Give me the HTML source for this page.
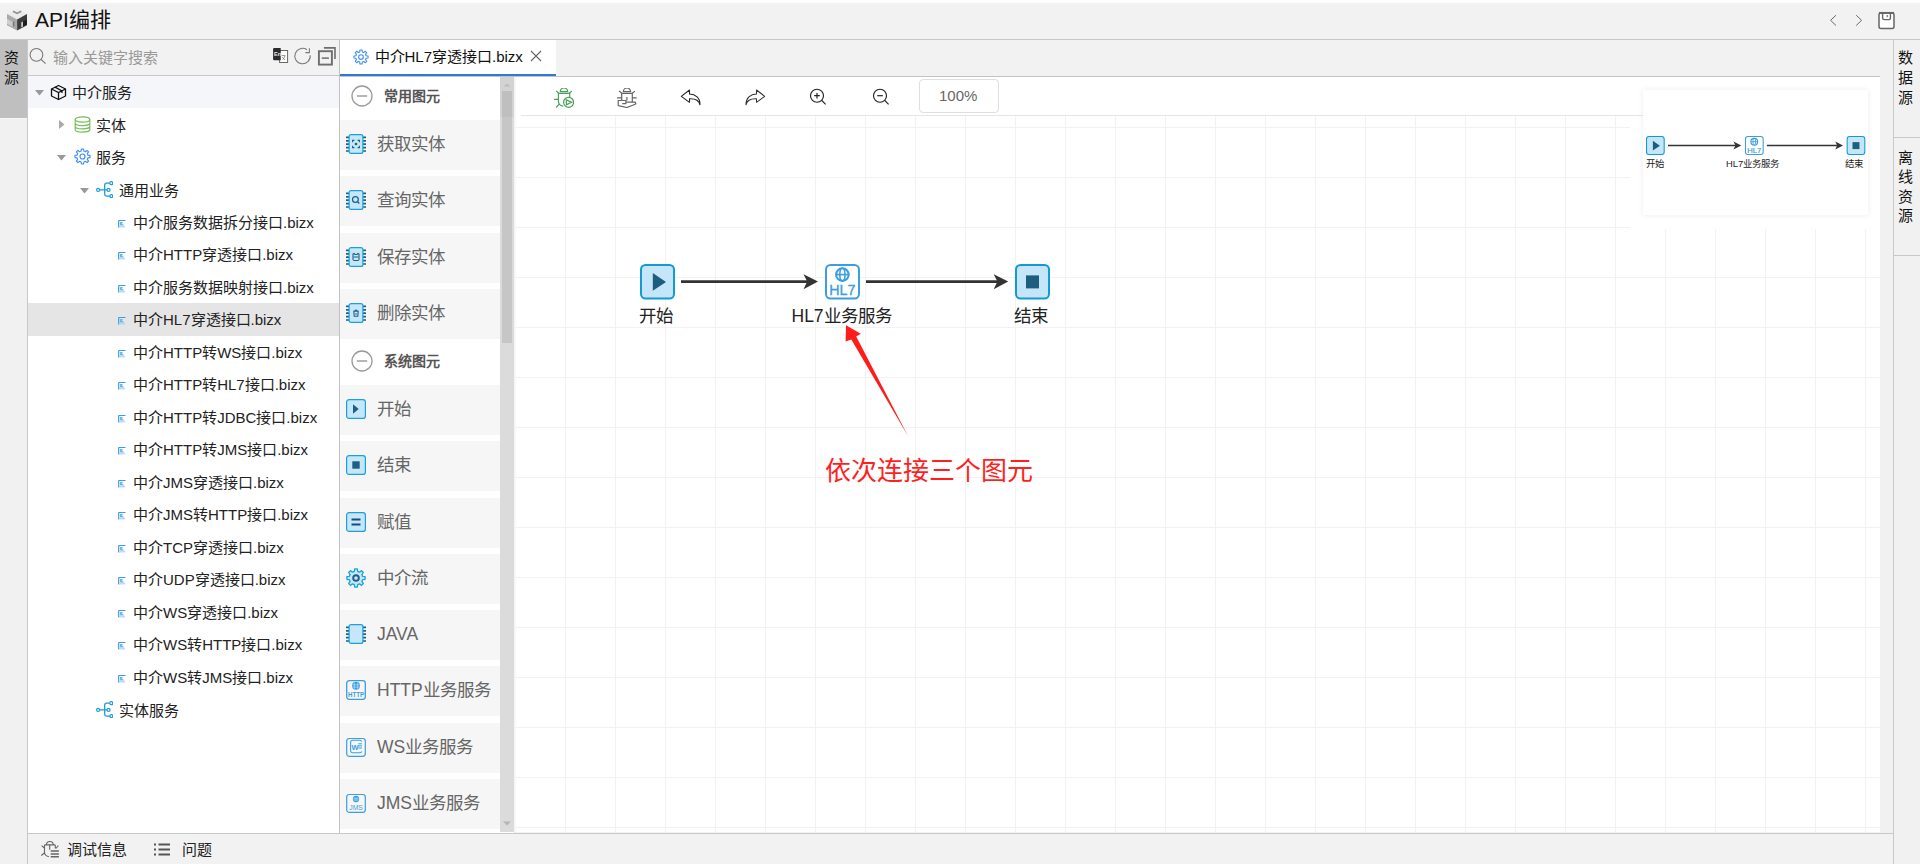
<!DOCTYPE html><html lang="zh-CN"><head><meta charset="utf-8"><style>
*{margin:0;padding:0;box-sizing:border-box}
html,body{width:1920px;height:864px;overflow:hidden;background:#fff;font-family:"Liberation Sans",sans-serif;color:#222}
div,span,svg{position:absolute}
.t{white-space:nowrap;line-height:1}
</style></head><body>
<div style="left:0px;top:0px;width:1920px;height:3px;background:#fff;"></div>
<div style="left:0px;top:3px;width:1920px;height:36px;background:#f2f2f2;"></div>
<div style="left:0px;top:39px;width:1920px;height:1px;background:#c8c8c8;"></div>
<div style="left:0px;top:40px;width:27px;height:824px;background:#f1f1f1;"></div>
<div style="left:0px;top:40px;width:27px;height:78px;background:#bfbfbf;"></div>
<div style="left:0px;top:118px;width:27px;height:1px;background:#f6f6f6;"></div>
<div style="left:27px;top:40px;width:1px;height:824px;background:#c8c8c8;"></div>
<div style="left:28px;top:40px;width:311px;height:35px;background:#f2f2f2;"></div>
<div style="left:28px;top:75px;width:311px;height:1px;background:#c8c8c8;"></div>
<div style="left:339px;top:40px;width:1px;height:793px;background:#c3c3c3;"></div>
<div style="left:340px;top:40px;width:1540px;height:36px;background:#f2f2f2;"></div>
<div style="left:340px;top:40px;width:216px;height:36px;background:#fff;"></div>
<div style="left:340px;top:74px;width:216px;height:2px;background:#2f7bd1;"></div>
<div style="left:340px;top:76px;width:1540px;height:1px;background:#c3c3c3;"></div>
<div style="left:1880px;top:40px;width:13px;height:793px;background:#f1f1f1;"></div>
<div style="left:1893px;top:40px;width:1px;height:824px;background:#c8c8c8;"></div>
<div style="left:1894px;top:40px;width:26px;height:824px;background:#f1f1f1;"></div>
<div style="left:28px;top:833px;width:1865px;height:1px;background:#c8c8c8;"></div>
<div style="left:28px;top:834px;width:1865px;height:30px;background:#f2f2f2;"></div>
<svg style="left:7px;top:8px" width="21" height="24" viewBox="0 0 21 24">
<path d="M10.1 0.8 L20 6.1 L10.1 11.4 L0 6.1Z" fill="#ebebeb"/>
<path d="M6 3.2 L10.1 5.4 L14.2 3.2" stroke="#8f8f8f" stroke-width="1.6" fill="none"/>
<path d="M0 6.1 L10.1 11.4 V22.6 L0 17.2Z" fill="#a9a9a9"/>
<path d="M10.1 11.4 L20 6.1 V17.2 L10.1 22.6Z" fill="#3d3d3d"/>
<path d="M0 10.8 L5.8 13.9 V18.9 L0 15.8Z" fill="#cdcdcd"/>
<path d="M5.8 13.9 L7.4 13 V18 L5.8 18.9Z" fill="#7a7a7a"/>
<path d="M14.2 14.6 L16 13.6 V18.6 L14.2 19.6Z" fill="#c9c9c9"/>
<path d="M16 13.6 L20 11.4 V16.4 L16 18.6Z" fill="#1e1e1e"/>
</svg>
<span class="t" style="left:35px;top:9px;font-size:21px;color:#111;">API编排</span>
<svg style="left:1826px;top:13px" width="14" height="14" viewBox="0 0 14 14"><path d="M10 2.2 L4.6 7.3 L10 12.5" stroke="#6a6a6a" stroke-width="1" fill="none"/></svg>
<svg style="left:1851px;top:13px" width="14" height="14" viewBox="0 0 14 14"><path d="M5.2 2.2 L10.6 7.3 L5.2 12.5" stroke="#6a6a6a" stroke-width="1" fill="none"/></svg>
<svg style="left:1877px;top:11px" width="19" height="19" viewBox="0 0 19 19"><rect x="2" y="1.9" width="15" height="15.6" rx="2" stroke="#666" stroke-width="1.5" fill="#fff"/><path d="M2 1.9 H17" stroke="#666" stroke-width="1.9"/><path d="M5.6 2 V7 A1.6 1.6 0 0 0 7.2 8.6 H11.8 A1.6 1.6 0 0 0 13.4 7 V2" stroke="#666" stroke-width="1.4" fill="none"/><path d="M10.2 4 V6.2" stroke="#555" stroke-width="1"/></svg>
<span class="t" style="left:4px;top:50px;font-size:15px;color:#111;">资</span>
<span class="t" style="left:4px;top:70px;font-size:15px;color:#111;">源</span>
<span class="t" style="left:1898px;top:50.0px;font-size:15px;color:#111;">数</span>
<span class="t" style="left:1898px;top:69.8px;font-size:15px;color:#111;">据</span>
<span class="t" style="left:1898px;top:89.6px;font-size:15px;color:#111;">源</span>
<div style="left:1894px;top:137px;width:26px;height:1px;background:#c8c8c8;"></div>
<span class="t" style="left:1898px;top:149.5px;font-size:15px;color:#111;">离</span>
<span class="t" style="left:1898px;top:169.1px;font-size:15px;color:#111;">线</span>
<span class="t" style="left:1898px;top:188.7px;font-size:15px;color:#111;">资</span>
<span class="t" style="left:1898px;top:208.3px;font-size:15px;color:#111;">源</span>
<div style="left:1894px;top:255px;width:26px;height:1px;background:#c8c8c8;"></div>
<svg style="left:28px;top:46px" width="20" height="20" viewBox="0 0 20 20"><circle cx="8.45" cy="8.85" r="6.4" stroke="#777" stroke-width="1.1" fill="none"/><path d="M13.1 13.5 L17.6 17.6" stroke="#777" stroke-width="1.1"/></svg>
<span class="t" style="left:53px;top:49.5px;font-size:15px;color:#999;">输入关键字搜索</span>
<svg style="left:272px;top:47px" width="17" height="17" viewBox="0 0 17 17"><rect x="7.6" y="3.5" width="8" height="12" fill="#fff" stroke="#666" stroke-width="1"/><path d="M1.1 2 A1 1 0 0 1 2.1 1 H8.7 V13.3 H2.1 A1 1 0 0 1 1.1 12.3Z" fill="#2b2b2b"/><text x="2" y="8.8" font-size="5.6" font-weight="bold" fill="#e8e8e8" font-family="Liberation Sans">En</text><path d="M9.5 8.6 H13.2 L11 12.5 M10.3 10.3 L13 13" stroke="#777" stroke-width="0.8" fill="none"/></svg>
<svg style="left:293px;top:46px" width="20" height="20" viewBox="0 0 20 20"><path d="M17.2 9.3 A7.7 7.7 0 1 1 13.9 3.7" stroke="#777" stroke-width="1.05" fill="none"/><path d="M12.4 6.6 H16.4 V2.3" stroke="#777" stroke-width="1.05" fill="none"/></svg>
<svg style="left:317px;top:46px" width="20" height="20" viewBox="0 0 20 20"><rect x="1.9" y="5.2" width="13" height="13.4" stroke="#6e6e6e" stroke-width="1.9" fill="none"/><path d="M6.9 1.9 H18 V13" stroke="#6e6e6e" stroke-width="1.6" fill="none"/><path d="M4.8 12.1 H11.9" stroke="#6e6e6e" stroke-width="1.5"/></svg>
<div style="left:28px;top:76px;width:311px;height:32px;background:#f4f6fa;"></div>
<div style="left:28px;top:303.5px;width:0px;height:0px;background:#fff;"></div>
<div style="left:28px;top:303px;width:311px;height:32.5px;background:#e5e5e5;"></div>
<svg style="left:35px;top:90px" width="9" height="6" viewBox="0 0 9 6"><path d="M0 0 H9 L4.5 5.5Z" fill="#999"/></svg>
<svg style="left:50px;top:84px" width="17" height="17" viewBox="0 0 17 17"><path d="M8.5 1.5 L15.5 5 V12 L8.5 15.5 L1.5 12 V5Z" stroke="#111" stroke-width="1.3" fill="none" stroke-linejoin="round"/><path d="M1.5 5 L8.5 8.5 L15.5 5 M8.5 8.5 V15.5 M5 3.2 L12 6.8 V9" stroke="#111" stroke-width="1.3" fill="none"/></svg>
<span class="t" style="left:72px;top:85px;font-size:15px;color:#222;">中介服务</span>
<svg style="left:59px;top:120px" width="6" height="9" viewBox="0 0 6 9"><path d="M0 0 V9 L5.5 4.5Z" fill="#aaa"/></svg>
<svg style="left:74px;top:116px" width="17" height="17" viewBox="0 0 17 17"><ellipse cx="8.5" cy="3.5" rx="7.3" ry="2.6" stroke="#78be5c" stroke-width="1.2" fill="none"/><path d="M1.2 3.5 V13.5 A7.3 2.6 0 0 0 15.8 13.5 V3.5 M1.2 7 A7.3 2.6 0 0 0 15.8 7 M1.2 10.3 A7.3 2.6 0 0 0 15.8 10.3" stroke="#78be5c" stroke-width="1.2" fill="none"/></svg>
<span class="t" style="left:96px;top:117.5px;font-size:15px;color:#222;">实体</span>
<svg style="left:57px;top:155px" width="9" height="6" viewBox="0 0 9 6"><path d="M0 0 H9 L4.5 5.5Z" fill="#999"/></svg>
<svg style="left:74px;top:148px" width="17" height="17" viewBox="0 0 17 17"><path d="M7.11 3.08 L7.43 0.98 L9.57 0.98 L9.89 3.08 L11.35 3.68 L13.06 2.42 L14.58 3.94 L13.32 5.65 L13.92 7.11 L16.02 7.43 L16.02 9.57 L13.92 9.89 L13.32 11.35 L14.58 13.06 L13.06 14.58 L11.35 13.32 L9.89 13.92 L9.57 16.02 L7.43 16.02 L7.11 13.92 L5.65 13.32 L3.94 14.58 L2.42 13.06 L3.68 11.35 L3.08 9.89 L0.98 9.57 L0.98 7.43 L3.08 7.11 L3.68 5.65 L2.42 3.94 L3.94 2.42 L5.65 3.68Z" fill="none" stroke="#3d8ef8" stroke-width="1.15" stroke-linejoin="round"/><circle cx="8.5" cy="8.5" r="2.5" fill="none" stroke="#3d8ef8" stroke-width="1.2"/></svg>
<span class="t" style="left:96px;top:150px;font-size:15px;color:#222;">服务</span>
<svg style="left:80px;top:187.5px" width="9" height="6" viewBox="0 0 9 6"><path d="M0 0 H9 L4.5 5.5Z" fill="#999"/></svg>
<svg style="left:96px;top:181px" width="17" height="17" viewBox="0 0 17 17"><circle cx="2.1" cy="8.9" r="1.5" stroke="#1d9bd6" stroke-width="1.2" fill="none"/><circle cx="15.3" cy="2.2" r="1.5" stroke="#1d9bd6" stroke-width="1.2" fill="none"/><circle cx="12.6" cy="8.9" r="1.5" stroke="#1d9bd6" stroke-width="1.2" fill="none"/><circle cx="15.3" cy="15.1" r="1.5" stroke="#1d9bd6" stroke-width="1.2" fill="none"/><path d="M3.6 8.9 H11.1 M13.8 2.2 H10.5 A1.8 1.8 0 0 0 8.7 4 V13.3 A1.8 1.8 0 0 0 10.5 15.1 H13.8" stroke="#1d9bd6" stroke-width="1.3" fill="none"/></svg>
<span class="t" style="left:118.5px;top:182.5px;font-size:15px;color:#222;">通用业务</span>
<svg style="left:118px;top:219.5px" width="8" height="8" viewBox="0 0 8 8"><path d="M0.5 0.5 H7.5 M0.7 0.5 V7.5" stroke="#3a9ee0" stroke-width="1.2"/><path d="M2 2 H5 L4 3.5 L6.5 5.5 H2Z" fill="#6fb8ea"/><path d="M1.5 6.8 H7" stroke="#a8d4f2" stroke-width="1.2"/></svg>
<span class="t" style="left:133px;top:214.5px;font-size:15px;color:#222;">中介服务数据拆分接口.bizx</span>
<svg style="left:118px;top:252.0px" width="8" height="8" viewBox="0 0 8 8"><path d="M0.5 0.5 H7.5 M0.7 0.5 V7.5" stroke="#3a9ee0" stroke-width="1.2"/><path d="M2 2 H5 L4 3.5 L6.5 5.5 H2Z" fill="#6fb8ea"/><path d="M1.5 6.8 H7" stroke="#a8d4f2" stroke-width="1.2"/></svg>
<span class="t" style="left:133px;top:247.0px;font-size:15px;color:#222;">中介HTTP穿透接口.bizx</span>
<svg style="left:118px;top:284.5px" width="8" height="8" viewBox="0 0 8 8"><path d="M0.5 0.5 H7.5 M0.7 0.5 V7.5" stroke="#3a9ee0" stroke-width="1.2"/><path d="M2 2 H5 L4 3.5 L6.5 5.5 H2Z" fill="#6fb8ea"/><path d="M1.5 6.8 H7" stroke="#a8d4f2" stroke-width="1.2"/></svg>
<span class="t" style="left:133px;top:279.5px;font-size:15px;color:#222;">中介服务数据映射接口.bizx</span>
<svg style="left:118px;top:317.0px" width="8" height="8" viewBox="0 0 8 8"><path d="M0.5 0.5 H7.5 M0.7 0.5 V7.5" stroke="#3a9ee0" stroke-width="1.2"/><path d="M2 2 H5 L4 3.5 L6.5 5.5 H2Z" fill="#6fb8ea"/><path d="M1.5 6.8 H7" stroke="#a8d4f2" stroke-width="1.2"/></svg>
<span class="t" style="left:133px;top:312.0px;font-size:15px;color:#222;">中介HL7穿透接口.bizx</span>
<svg style="left:118px;top:349.5px" width="8" height="8" viewBox="0 0 8 8"><path d="M0.5 0.5 H7.5 M0.7 0.5 V7.5" stroke="#3a9ee0" stroke-width="1.2"/><path d="M2 2 H5 L4 3.5 L6.5 5.5 H2Z" fill="#6fb8ea"/><path d="M1.5 6.8 H7" stroke="#a8d4f2" stroke-width="1.2"/></svg>
<span class="t" style="left:133px;top:344.5px;font-size:15px;color:#222;">中介HTTP转WS接口.bizx</span>
<svg style="left:118px;top:382.0px" width="8" height="8" viewBox="0 0 8 8"><path d="M0.5 0.5 H7.5 M0.7 0.5 V7.5" stroke="#3a9ee0" stroke-width="1.2"/><path d="M2 2 H5 L4 3.5 L6.5 5.5 H2Z" fill="#6fb8ea"/><path d="M1.5 6.8 H7" stroke="#a8d4f2" stroke-width="1.2"/></svg>
<span class="t" style="left:133px;top:377.0px;font-size:15px;color:#222;">中介HTTP转HL7接口.bizx</span>
<svg style="left:118px;top:414.5px" width="8" height="8" viewBox="0 0 8 8"><path d="M0.5 0.5 H7.5 M0.7 0.5 V7.5" stroke="#3a9ee0" stroke-width="1.2"/><path d="M2 2 H5 L4 3.5 L6.5 5.5 H2Z" fill="#6fb8ea"/><path d="M1.5 6.8 H7" stroke="#a8d4f2" stroke-width="1.2"/></svg>
<span class="t" style="left:133px;top:409.5px;font-size:15px;color:#222;">中介HTTP转JDBC接口.bizx</span>
<svg style="left:118px;top:447.0px" width="8" height="8" viewBox="0 0 8 8"><path d="M0.5 0.5 H7.5 M0.7 0.5 V7.5" stroke="#3a9ee0" stroke-width="1.2"/><path d="M2 2 H5 L4 3.5 L6.5 5.5 H2Z" fill="#6fb8ea"/><path d="M1.5 6.8 H7" stroke="#a8d4f2" stroke-width="1.2"/></svg>
<span class="t" style="left:133px;top:442.0px;font-size:15px;color:#222;">中介HTTP转JMS接口.bizx</span>
<svg style="left:118px;top:479.5px" width="8" height="8" viewBox="0 0 8 8"><path d="M0.5 0.5 H7.5 M0.7 0.5 V7.5" stroke="#3a9ee0" stroke-width="1.2"/><path d="M2 2 H5 L4 3.5 L6.5 5.5 H2Z" fill="#6fb8ea"/><path d="M1.5 6.8 H7" stroke="#a8d4f2" stroke-width="1.2"/></svg>
<span class="t" style="left:133px;top:474.5px;font-size:15px;color:#222;">中介JMS穿透接口.bizx</span>
<svg style="left:118px;top:512.0px" width="8" height="8" viewBox="0 0 8 8"><path d="M0.5 0.5 H7.5 M0.7 0.5 V7.5" stroke="#3a9ee0" stroke-width="1.2"/><path d="M2 2 H5 L4 3.5 L6.5 5.5 H2Z" fill="#6fb8ea"/><path d="M1.5 6.8 H7" stroke="#a8d4f2" stroke-width="1.2"/></svg>
<span class="t" style="left:133px;top:507.0px;font-size:15px;color:#222;">中介JMS转HTTP接口.bizx</span>
<svg style="left:118px;top:544.5px" width="8" height="8" viewBox="0 0 8 8"><path d="M0.5 0.5 H7.5 M0.7 0.5 V7.5" stroke="#3a9ee0" stroke-width="1.2"/><path d="M2 2 H5 L4 3.5 L6.5 5.5 H2Z" fill="#6fb8ea"/><path d="M1.5 6.8 H7" stroke="#a8d4f2" stroke-width="1.2"/></svg>
<span class="t" style="left:133px;top:539.5px;font-size:15px;color:#222;">中介TCP穿透接口.bizx</span>
<svg style="left:118px;top:577.0px" width="8" height="8" viewBox="0 0 8 8"><path d="M0.5 0.5 H7.5 M0.7 0.5 V7.5" stroke="#3a9ee0" stroke-width="1.2"/><path d="M2 2 H5 L4 3.5 L6.5 5.5 H2Z" fill="#6fb8ea"/><path d="M1.5 6.8 H7" stroke="#a8d4f2" stroke-width="1.2"/></svg>
<span class="t" style="left:133px;top:572.0px;font-size:15px;color:#222;">中介UDP穿透接口.bizx</span>
<svg style="left:118px;top:609.5px" width="8" height="8" viewBox="0 0 8 8"><path d="M0.5 0.5 H7.5 M0.7 0.5 V7.5" stroke="#3a9ee0" stroke-width="1.2"/><path d="M2 2 H5 L4 3.5 L6.5 5.5 H2Z" fill="#6fb8ea"/><path d="M1.5 6.8 H7" stroke="#a8d4f2" stroke-width="1.2"/></svg>
<span class="t" style="left:133px;top:604.5px;font-size:15px;color:#222;">中介WS穿透接口.bizx</span>
<svg style="left:118px;top:642.0px" width="8" height="8" viewBox="0 0 8 8"><path d="M0.5 0.5 H7.5 M0.7 0.5 V7.5" stroke="#3a9ee0" stroke-width="1.2"/><path d="M2 2 H5 L4 3.5 L6.5 5.5 H2Z" fill="#6fb8ea"/><path d="M1.5 6.8 H7" stroke="#a8d4f2" stroke-width="1.2"/></svg>
<span class="t" style="left:133px;top:637.0px;font-size:15px;color:#222;">中介WS转HTTP接口.bizx</span>
<svg style="left:118px;top:674.5px" width="8" height="8" viewBox="0 0 8 8"><path d="M0.5 0.5 H7.5 M0.7 0.5 V7.5" stroke="#3a9ee0" stroke-width="1.2"/><path d="M2 2 H5 L4 3.5 L6.5 5.5 H2Z" fill="#6fb8ea"/><path d="M1.5 6.8 H7" stroke="#a8d4f2" stroke-width="1.2"/></svg>
<span class="t" style="left:133px;top:669.5px;font-size:15px;color:#222;">中介WS转JMS接口.bizx</span>
<svg style="left:96px;top:701px" width="17" height="17" viewBox="0 0 17 17"><circle cx="2.1" cy="8.9" r="1.5" stroke="#1d9bd6" stroke-width="1.2" fill="none"/><circle cx="15.3" cy="2.2" r="1.5" stroke="#1d9bd6" stroke-width="1.2" fill="none"/><circle cx="12.6" cy="8.9" r="1.5" stroke="#1d9bd6" stroke-width="1.2" fill="none"/><circle cx="15.3" cy="15.1" r="1.5" stroke="#1d9bd6" stroke-width="1.2" fill="none"/><path d="M3.6 8.9 H11.1 M13.8 2.2 H10.5 A1.8 1.8 0 0 0 8.7 4 V13.3 A1.8 1.8 0 0 0 10.5 15.1 H13.8" stroke="#1d9bd6" stroke-width="1.3" fill="none"/></svg>
<span class="t" style="left:118.5px;top:702.5px;font-size:15px;color:#222;">实体服务</span>
<svg style="left:40px;top:840px" width="20" height="18" viewBox="0 0 20 18"><g stroke="#666" stroke-width="1.1" fill="none"><path d="M6.4 4.9 A3.45 3.45 0 0 1 13.3 4.9"/><path d="M4.4 4.9 H15.3 M1.6 5.6 L4.4 8 M18.4 5.6 L15.8 8.5 M4.5 4.9 V12.5 Q4.8 15.8 8.9 16.8 M1.3 15.5 L4.3 13 M9.7 4.9 V9.8 M15.3 4.9 V8.5"/></g><path d="M10.7 11 H18.9 M10.7 13.9 H18.9 M10.7 16.8 H18.9" stroke="#666" stroke-width="1.5"/></svg>
<span class="t" style="left:67px;top:842px;font-size:15px;color:#222;">调试信息</span>
<svg style="left:153px;top:842px" width="18" height="16" viewBox="0 0 18 16"><path d="M1 2.5 H3 M1 7.5 H3 M1 12.5 H3" stroke="#555" stroke-width="1.8"/><path d="M5.5 2.5 H17 M5.5 7.5 H17 M5.5 12.5 H17" stroke="#555" stroke-width="1.8"/></svg>
<span class="t" style="left:182px;top:842px;font-size:15px;color:#222;">问题</span>
<svg style="left:352.5px;top:49px" width="16" height="16" viewBox="0 0 17 17"><path d="M7.11 3.08 L7.43 0.98 L9.57 0.98 L9.89 3.08 L11.35 3.68 L13.06 2.42 L14.58 3.94 L13.32 5.65 L13.92 7.11 L16.02 7.43 L16.02 9.57 L13.92 9.89 L13.32 11.35 L14.58 13.06 L13.06 14.58 L11.35 13.32 L9.89 13.92 L9.57 16.02 L7.43 16.02 L7.11 13.92 L5.65 13.32 L3.94 14.58 L2.42 13.06 L3.68 11.35 L3.08 9.89 L0.98 9.57 L0.98 7.43 L3.08 7.11 L3.68 5.65 L2.42 3.94 L3.94 2.42 L5.65 3.68Z" fill="none" stroke="#3d8ef8" stroke-width="1.15" stroke-linejoin="round"/><circle cx="8.5" cy="8.5" r="2.5" fill="none" stroke="#3d8ef8" stroke-width="1.1"/></svg>
<span class="t" style="left:374.5px;top:49px;font-size:15px;color:#111;">中介HL7穿透接口.bizx</span>
<svg style="left:530px;top:50px" width="12" height="12" viewBox="0 0 12 12"><path d="M1 1 L11 11 M11 1 L1 11" stroke="#666" stroke-width="1.1"/></svg>
<div style="left:340px;top:77px;width:160px;height:756px;background:#fff;"></div>
<div style="left:500px;top:77px;width:14px;height:755px;background:#dbdbdb;"></div>
<div style="left:502px;top:91px;width:10px;height:252px;background:#c6c6c6;"></div>
<div style="left:500px;top:77px;width:14px;height:40px;background:rgba(0,0,0,0.035);"></div>
<svg style="left:503px;top:83px;" width="8" height="4" viewBox="0 0 8 4"><path d="M0.5 3.5 L4 0.5 L7.5 3.5Z" fill="#bdbdbd"/></svg>
<svg style="left:503px;top:821px;" width="8" height="5" viewBox="0 0 8 5"><path d="M0 0.5 L4 4.5 L8 0.5Z" fill="#b5b5b5"/></svg>
<svg style="left:351px;top:85px;" width="22" height="22" viewBox="0 0 22 22"><circle cx="11" cy="11" r="10" stroke="#999" stroke-width="1.3" fill="none"/><path d="M5.8 11 H16.2" stroke="#999" stroke-width="1.4"/></svg>
<span class="t" style="left:384px;top:88.5px;font-size:14px;color:#555;font-weight:bold">常用图元</span>
<svg style="left:351px;top:350px;" width="22" height="22" viewBox="0 0 22 22"><circle cx="11" cy="11" r="10" stroke="#999" stroke-width="1.3" fill="none"/><path d="M5.8 11 H16.2" stroke="#999" stroke-width="1.4"/></svg>
<span class="t" style="left:384px;top:353.5px;font-size:14px;color:#555;font-weight:bold">系统图元</span>
<div style="left:340px;top:120.0px;width:160px;height:50px;background:#f6f6f6;"></div>
<svg style="left:346px;top:134.0px;" width="20" height="20" viewBox="0 0 20 20"><path d="M0.4 3.3 H3.5 M16.5 3.3 H19.6" stroke="#1d5f84" stroke-width="1.7" stroke-linecap="round"/><path d="M0.4 6.8 H3.5 M16.5 6.8 H19.6" stroke="#1d5f84" stroke-width="1.7" stroke-linecap="round"/><path d="M0.4 10.2 H3.5 M16.5 10.2 H19.6" stroke="#1d5f84" stroke-width="1.7" stroke-linecap="round"/><path d="M0.4 13.6 H3.5 M16.5 13.6 H19.6" stroke="#1d5f84" stroke-width="1.7" stroke-linecap="round"/><path d="M0.4 17 H3.5 M16.5 17 H19.6" stroke="#1d5f84" stroke-width="1.7" stroke-linecap="round"/><rect x="3.1" y="0.6" width="13.8" height="18.8" rx="2" fill="#c6e7fa" stroke="#1aa1dc" stroke-width="1.2"/><path d="M6.6 8.2 V6.4 H8.4 M11.6 6.4 H13.4 V8.2 M13.4 11.8 V13.6 H11.6 M8.4 13.6 H6.6 V11.8" stroke="#1d5f84" stroke-width="1.1" fill="none"/><circle cx="10" cy="10" r="1.3" fill="#1d5f84"/></svg>
<span class="t" style="left:377px;top:136.0px;font-size:17.5px;color:#666;">获取实体</span>
<div style="left:340px;top:176.25px;width:160px;height:50px;background:#f6f6f6;"></div>
<svg style="left:346px;top:190.25px;" width="20" height="20" viewBox="0 0 20 20"><path d="M0.4 3.3 H3.5 M16.5 3.3 H19.6" stroke="#1d5f84" stroke-width="1.7" stroke-linecap="round"/><path d="M0.4 6.8 H3.5 M16.5 6.8 H19.6" stroke="#1d5f84" stroke-width="1.7" stroke-linecap="round"/><path d="M0.4 10.2 H3.5 M16.5 10.2 H19.6" stroke="#1d5f84" stroke-width="1.7" stroke-linecap="round"/><path d="M0.4 13.6 H3.5 M16.5 13.6 H19.6" stroke="#1d5f84" stroke-width="1.7" stroke-linecap="round"/><path d="M0.4 17 H3.5 M16.5 17 H19.6" stroke="#1d5f84" stroke-width="1.7" stroke-linecap="round"/><rect x="3.1" y="0.6" width="13.8" height="18.8" rx="2" fill="#c6e7fa" stroke="#1aa1dc" stroke-width="1.2"/><circle cx="9.4" cy="9.5" r="2.9" stroke="#1d5f84" stroke-width="1.2" fill="none"/><path d="M11.4 11.6 L13.3 13.5" stroke="#1d5f84" stroke-width="1.3"/></svg>
<span class="t" style="left:377px;top:192.25px;font-size:17.5px;color:#666;">查询实体</span>
<div style="left:340px;top:232.5px;width:160px;height:50px;background:#f6f6f6;"></div>
<svg style="left:346px;top:246.5px;" width="20" height="20" viewBox="0 0 20 20"><path d="M0.4 3.3 H3.5 M16.5 3.3 H19.6" stroke="#1d5f84" stroke-width="1.7" stroke-linecap="round"/><path d="M0.4 6.8 H3.5 M16.5 6.8 H19.6" stroke="#1d5f84" stroke-width="1.7" stroke-linecap="round"/><path d="M0.4 10.2 H3.5 M16.5 10.2 H19.6" stroke="#1d5f84" stroke-width="1.7" stroke-linecap="round"/><path d="M0.4 13.6 H3.5 M16.5 13.6 H19.6" stroke="#1d5f84" stroke-width="1.7" stroke-linecap="round"/><path d="M0.4 17 H3.5 M16.5 17 H19.6" stroke="#1d5f84" stroke-width="1.7" stroke-linecap="round"/><rect x="3.1" y="0.6" width="13.8" height="18.8" rx="2" fill="#c6e7fa" stroke="#1aa1dc" stroke-width="1.2"/><path d="M7 7 L8 6.5 L9 7.5 H11 L12 6.5 L13 7 V12.5 A1.2 1.2 0 0 1 11.8 13.5 H8.2 A1.2 1.2 0 0 1 7 12.5Z M7.8 10 H12.2" stroke="#1d5f84" stroke-width="1.1" fill="none"/></svg>
<span class="t" style="left:377px;top:248.5px;font-size:17.5px;color:#666;">保存实体</span>
<div style="left:340px;top:288.75px;width:160px;height:50px;background:#f6f6f6;"></div>
<svg style="left:346px;top:302.75px;" width="20" height="20" viewBox="0 0 20 20"><path d="M0.4 3.3 H3.5 M16.5 3.3 H19.6" stroke="#1d5f84" stroke-width="1.7" stroke-linecap="round"/><path d="M0.4 6.8 H3.5 M16.5 6.8 H19.6" stroke="#1d5f84" stroke-width="1.7" stroke-linecap="round"/><path d="M0.4 10.2 H3.5 M16.5 10.2 H19.6" stroke="#1d5f84" stroke-width="1.7" stroke-linecap="round"/><path d="M0.4 13.6 H3.5 M16.5 13.6 H19.6" stroke="#1d5f84" stroke-width="1.7" stroke-linecap="round"/><path d="M0.4 17 H3.5 M16.5 17 H19.6" stroke="#1d5f84" stroke-width="1.7" stroke-linecap="round"/><rect x="3.1" y="0.6" width="13.8" height="18.8" rx="2" fill="#c6e7fa" stroke="#1aa1dc" stroke-width="1.2"/><path d="M7.8 8.3 H12.2 L11.8 13.3 H8.2Z M8.7 8.3 A1.3 1.3 0 0 1 11.3 8.3" stroke="#1d5f84" stroke-width="1.1" fill="none"/><rect x="9.5" y="10" width="1" height="1.8" fill="#1d5f84"/></svg>
<span class="t" style="left:377px;top:304.75px;font-size:17.5px;color:#666;">删除实体</span>
<div style="left:340px;top:385.0px;width:160px;height:50px;background:#f6f6f6;"></div>
<svg style="left:346px;top:399.0px;" width="20" height="20" viewBox="0 0 20 20"><rect x="0.6" y="0.6" width="18.8" height="18.8" rx="2.5" fill="#c6e7fa" stroke="#1aa1dc" stroke-width="1.2"/><path d="M7 5.3 L12.7 10 L7 14.7Z" fill="#1d5f84"/></svg>
<span class="t" style="left:377px;top:401.0px;font-size:17.5px;color:#666;">开始</span>
<div style="left:340px;top:441.25px;width:160px;height:50px;background:#f6f6f6;"></div>
<svg style="left:346px;top:455.25px;" width="20" height="20" viewBox="0 0 20 20"><rect x="0.6" y="0.6" width="18.8" height="18.8" rx="2.5" fill="#c6e7fa" stroke="#1aa1dc" stroke-width="1.2"/><rect x="6.3" y="6.3" width="7.4" height="7.4" fill="#1d5f84"/></svg>
<span class="t" style="left:377px;top:457.25px;font-size:17.5px;color:#666;">结束</span>
<div style="left:340px;top:497.5px;width:160px;height:50px;background:#f6f6f6;"></div>
<svg style="left:346px;top:511.5px;" width="20" height="20" viewBox="0 0 20 20"><rect x="0.6" y="0.6" width="18.8" height="18.8" rx="2.5" fill="#c6e7fa" stroke="#1aa1dc" stroke-width="1.2"/><path d="M5.5 7.4 H14.5 M5.5 12.4 H14.5" stroke="#12507a" stroke-width="2"/></svg>
<span class="t" style="left:377px;top:513.5px;font-size:17.5px;color:#666;">赋值</span>
<div style="left:340px;top:553.75px;width:160px;height:50px;background:#f6f6f6;"></div>
<svg style="left:346px;top:567.75px;" width="20" height="20" viewBox="0 0 20 20"><path d="M8.31 3.41 L8.70 0.89 L11.30 0.89 L11.69 3.41 L13.46 4.15 L15.52 2.64 L17.36 4.48 L15.85 6.54 L16.59 8.31 L19.11 8.70 L19.11 11.30 L16.59 11.69 L15.85 13.46 L17.36 15.52 L15.52 17.36 L13.46 15.85 L11.69 16.59 L11.30 19.11 L8.70 19.11 L8.31 16.59 L6.54 15.85 L4.48 17.36 L2.64 15.52 L4.15 13.46 L3.41 11.69 L0.89 11.30 L0.89 8.70 L3.41 8.31 L4.15 6.54 L2.64 4.48 L4.48 2.64 L6.54 4.15Z" fill="#c6e7fa" stroke="#1aa1dc" stroke-width="1.3" stroke-linejoin="round"/><circle cx="10" cy="10" r="2.8" fill="none" stroke="#1d5f84" stroke-width="1.9"/></svg>
<span class="t" style="left:377px;top:569.75px;font-size:17.5px;color:#666;">中介流</span>
<div style="left:340px;top:610.0px;width:160px;height:50px;background:#f6f6f6;"></div>
<svg style="left:346px;top:624.0px;" width="20" height="20" viewBox="0 0 20 20"><path d="M0.4 3.3 H3.5 M16.5 3.3 H19.6" stroke="#1d5f84" stroke-width="1.7" stroke-linecap="round"/><path d="M0.4 6.8 H3.5 M16.5 6.8 H19.6" stroke="#1d5f84" stroke-width="1.7" stroke-linecap="round"/><path d="M0.4 10.2 H3.5 M16.5 10.2 H19.6" stroke="#1d5f84" stroke-width="1.7" stroke-linecap="round"/><path d="M0.4 13.6 H3.5 M16.5 13.6 H19.6" stroke="#1d5f84" stroke-width="1.7" stroke-linecap="round"/><path d="M0.4 17 H3.5 M16.5 17 H19.6" stroke="#1d5f84" stroke-width="1.7" stroke-linecap="round"/><rect x="3.1" y="0.6" width="13.8" height="18.8" rx="2" fill="#c6e7fa" stroke="#1aa1dc" stroke-width="1.2"/></svg>
<span class="t" style="left:377px;top:626.0px;font-size:17.5px;color:#666;">JAVA</span>
<div style="left:340px;top:666.25px;width:160px;height:50px;background:#f6f6f6;"></div>
<svg style="left:346px;top:680.25px;" width="20" height="20" viewBox="0 0 20 20"><rect x="0.7" y="0.7" width="18.6" height="18.6" rx="2.5" fill="#f6f6f6" stroke="#3a9ee0" stroke-width="1.3"/><circle cx="10" cy="5.8" r="4" fill="#3a9ee0"/><path d="M6.2 4.8 H13.8 M6.2 7.1 H13.8 M8.3 2.3 V9.3 M11.7 2.3 V9.3" stroke="#cfe6f7" stroke-width="0.6"/><text x="10" y="17.3" font-size="6.8" font-weight="bold" text-anchor="middle" fill="#3a9ee0" font-family="Liberation Sans" textLength="16" lengthAdjust="spacingAndGlyphs">HTTP</text></svg>
<span class="t" style="left:377px;top:682.25px;font-size:17.5px;color:#666;">HTTP业务服务</span>
<div style="left:340px;top:722.5px;width:160px;height:50px;background:#f6f6f6;"></div>
<svg style="left:346px;top:736.5px;" width="20" height="20" viewBox="0 0 20 20"><rect x="0.7" y="1.5" width="18.6" height="17.8" rx="2.5" fill="#f6f6f6" stroke="#3a9ee0" stroke-width="1.2"/><path d="M15.8 4.5 A2.5 2.5 0 0 0 14 3.3 H6.5 A2 2 0 0 0 4.6 5.3 V13.7 A2 2 0 0 0 6.5 15.7 H14 A2.5 2.5 0 0 0 15.8 14.5" stroke="#3a9ee0" stroke-width="1.1" fill="none"/><text x="5.5" y="12.5" font-size="7.5" font-weight="bold" fill="#3a9ee0" font-family="Liberation Sans">W</text><path d="M12.3 6.8 H16 M12.3 8.9 H16 M12.3 11 H16" stroke="#3a9ee0" stroke-width="1"/></svg>
<span class="t" style="left:377px;top:738.5px;font-size:17.5px;color:#666;">WS业务服务</span>
<div style="left:340px;top:778.75px;width:160px;height:50px;background:#f6f6f6;"></div>
<svg style="left:346px;top:792.75px;" width="20" height="20" viewBox="0 0 20 20"><rect x="0.7" y="1.5" width="18.6" height="17.8" rx="2.5" fill="#f6f6f6" stroke="#3a9ee0" stroke-width="1.2"/><circle cx="10" cy="6" r="3.2" fill="#3a9ee0"/><path d="M7.5 5.2 H12.5 M7.5 7 H12.5" stroke="#e6f2fb" stroke-width="0.7"/><text x="10" y="16.6" font-size="6.6" text-anchor="middle" fill="#3a9ee0" font-family="Liberation Sans" textLength="13.5" lengthAdjust="spacingAndGlyphs">JMS</text></svg>
<span class="t" style="left:377px;top:794.75px;font-size:17.5px;color:#666;">JMS业务服务</span>
<div style="left:514px;top:77px;width:1366px;height:755px;background:#fff;"></div>
<div style="left:514px;top:832px;width:1366px;height:1px;background:#f4f4f4;"></div>
<div style="left:565px;top:116px;width:1px;height:717px;background:#f2f2f2;"></div>
<div style="left:615px;top:116px;width:1px;height:717px;background:#f2f2f2;"></div>
<div style="left:665px;top:116px;width:1px;height:717px;background:#f2f2f2;"></div>
<div style="left:715px;top:116px;width:1px;height:717px;background:#f2f2f2;"></div>
<div style="left:765px;top:116px;width:1px;height:717px;background:#f2f2f2;"></div>
<div style="left:815px;top:116px;width:1px;height:717px;background:#f2f2f2;"></div>
<div style="left:865px;top:116px;width:1px;height:717px;background:#f2f2f2;"></div>
<div style="left:915px;top:116px;width:1px;height:717px;background:#f2f2f2;"></div>
<div style="left:965px;top:116px;width:1px;height:717px;background:#f2f2f2;"></div>
<div style="left:1015px;top:116px;width:1px;height:717px;background:#f2f2f2;"></div>
<div style="left:1065px;top:116px;width:1px;height:717px;background:#f2f2f2;"></div>
<div style="left:1115px;top:116px;width:1px;height:717px;background:#f2f2f2;"></div>
<div style="left:1165px;top:116px;width:1px;height:717px;background:#f2f2f2;"></div>
<div style="left:1215px;top:116px;width:1px;height:717px;background:#f2f2f2;"></div>
<div style="left:1265px;top:116px;width:1px;height:717px;background:#f2f2f2;"></div>
<div style="left:1315px;top:116px;width:1px;height:717px;background:#f2f2f2;"></div>
<div style="left:1365px;top:116px;width:1px;height:717px;background:#f2f2f2;"></div>
<div style="left:1415px;top:116px;width:1px;height:717px;background:#f2f2f2;"></div>
<div style="left:1465px;top:116px;width:1px;height:717px;background:#f2f2f2;"></div>
<div style="left:1515px;top:116px;width:1px;height:717px;background:#f2f2f2;"></div>
<div style="left:1565px;top:116px;width:1px;height:717px;background:#f2f2f2;"></div>
<div style="left:1615px;top:116px;width:1px;height:717px;background:#f2f2f2;"></div>
<div style="left:1665px;top:116px;width:1px;height:717px;background:#f2f2f2;"></div>
<div style="left:1715px;top:116px;width:1px;height:717px;background:#f2f2f2;"></div>
<div style="left:1765px;top:116px;width:1px;height:717px;background:#f2f2f2;"></div>
<div style="left:1815px;top:116px;width:1px;height:717px;background:#f2f2f2;"></div>
<div style="left:1865px;top:116px;width:1px;height:717px;background:#f2f2f2;"></div>
<div style="left:516px;top:127px;width:1364px;height:1px;background:#f2f2f2;"></div>
<div style="left:516px;top:177px;width:1364px;height:1px;background:#f2f2f2;"></div>
<div style="left:516px;top:227px;width:1364px;height:1px;background:#f2f2f2;"></div>
<div style="left:516px;top:277px;width:1364px;height:1px;background:#f2f2f2;"></div>
<div style="left:516px;top:327px;width:1364px;height:1px;background:#f2f2f2;"></div>
<div style="left:516px;top:377px;width:1364px;height:1px;background:#f2f2f2;"></div>
<div style="left:516px;top:427px;width:1364px;height:1px;background:#f2f2f2;"></div>
<div style="left:516px;top:477px;width:1364px;height:1px;background:#f2f2f2;"></div>
<div style="left:516px;top:527px;width:1364px;height:1px;background:#f2f2f2;"></div>
<div style="left:516px;top:577px;width:1364px;height:1px;background:#f2f2f2;"></div>
<div style="left:516px;top:627px;width:1364px;height:1px;background:#f2f2f2;"></div>
<div style="left:516px;top:677px;width:1364px;height:1px;background:#f2f2f2;"></div>
<div style="left:516px;top:727px;width:1364px;height:1px;background:#f2f2f2;"></div>
<div style="left:516px;top:777px;width:1364px;height:1px;background:#f2f2f2;"></div>
<div style="left:516px;top:827px;width:1364px;height:1px;background:#f2f2f2;"></div>
<div style="left:514px;top:77px;width:3px;height:756px;background:linear-gradient(to right, rgba(0,0,0,0.05), rgba(0,0,0,0));"></div>
<div style="left:1630px;top:77px;width:250px;height:152px;background:#fff;"></div>
<div style="left:521px;top:115px;width:1122px;height:1px;background:#e6e6e6;"></div>
<svg style="left:554px;top:88px;" width="20" height="20" viewBox="0 0 20 20"><g stroke="#4aa05a" stroke-width="1.2" fill="none">
<path d="M6.3 3.6 A3.6 3.6 0 0 1 13.6 3.6Z"/>
<path d="M2.1 2.9 L4.7 5.3 M17.8 3.1 L15.3 5.3"/>
<path d="M4.4 5.3 H15.7 V9 M4.4 5.3 V13.5 A5.5 5.5 0 0 0 9.3 18.2"/>
<path d="M0 11.4 H4.4 M2.1 19.5 L5.2 16.2"/>
<circle cx="14.6" cy="14.3" r="5"/>
<path d="M12.3 11.9 L17.6 14.3 L12.3 16.7Z"/></g></svg>
<svg style="left:617px;top:88px;" width="20" height="20" viewBox="0 0 20 20"><g stroke="#666" stroke-width="1.2" fill="none">
<path d="M6.4 3.6 A3.6 3.6 0 0 1 13.6 3.6Z"/>
<path d="M2.1 2.9 L4.7 5.3 M17.9 3.1 L15.3 5.3"/>
<path d="M4.7 12.5 V5.3 H15.3 V14.2 M0 9.9 H4.7 M15.3 9.9 H19.7 M9.9 9 V12.5"/>
<path d="M1.2 17.7 V12.5 H8.9 V15.6 H5.2 M8.9 14.2 H18.3 L18.8 16 L9.9 19.5 L1.2 17.7" stroke-linejoin="round"/></g></svg>
<svg style="left:680px;top:89px;" width="22" height="17" viewBox="0 0 22 17"><path d="M9.5 1 L1.3 7.3 L9.5 13.3 V9.8 C14.8 9.6 19 11.2 20 15.8 C20.2 9 15.5 5.3 9.5 5.1Z" stroke="#222" stroke-width="1.05" fill="none" stroke-linejoin="round"/></svg>
<svg style="left:744px;top:89px;" width="22" height="17" viewBox="0 0 22 17"><path d="M12.5 1 L20.7 7.3 L12.5 13.3 V9.8 C7.2 9.6 3 11.2 2 15.8 C1.8 9 6.5 5.3 12.5 5.1Z" stroke="#333" stroke-width="1.05" fill="none" stroke-linejoin="round"/></svg>
<svg style="left:809px;top:88px;" width="18" height="18" viewBox="0 0 18 18"><circle cx="8" cy="7.7" r="6.5" stroke="#222" stroke-width="1.15" fill="none"/><path d="M12.7 12.4 L16.6 16.4" stroke="#222" stroke-width="1.2"/><path d="M5.2 7.7 H10.8 M8 4.9 V10.5" stroke="#222" stroke-width="1.2"/></svg>
<svg style="left:872px;top:88px;" width="18" height="18" viewBox="0 0 18 18"><circle cx="8" cy="7.7" r="6.5" stroke="#222" stroke-width="1.15" fill="none"/><path d="M12.7 12.4 L16.6 16.4" stroke="#222" stroke-width="1.2"/><path d="M5.2 7.7 H10.8" stroke="#222" stroke-width="1.2"/></svg>
<div style="left:919px;top:78.5px;width:80px;height:34px;background:#fff;border:1px solid #dcdfe6;border-radius:4px"></div>
<span class="t" style="left:939px;top:87.5px;font-size:15px;color:#666;">100%</span>
<svg style="left:0;top:0" width="1920" height="864" viewBox="0 0 1920 864"><rect x="641" y="265" width="33" height="33.5" rx="4.5" fill="#c5e6f9" stroke="#119ad4" stroke-width="2"/><path d="M652.8 273 L666 282 L652.8 290.8Z" fill="#1b5e80"/><rect x="826" y="265" width="33" height="33.5" rx="4.5" fill="#fff" stroke="#3a9ee0" stroke-width="2"/><circle cx="842.4" cy="274.6" r="6.3" fill="none" stroke="#3a9ee0" stroke-width="2.1"/><ellipse cx="842.4" cy="274.6" rx="2.6" ry="6.3" fill="none" stroke="#3a9ee0" stroke-width="1.6"/><path d="M836.2 274.6 H848.6" stroke="#3a9ee0" stroke-width="1.6"/><text x="842.4" y="294.9" font-size="14.3" text-anchor="middle" fill="#3a9ee0" stroke="#3a9ee0" stroke-width="0.35" font-family="Liberation Sans">HL7</text><rect x="1016" y="265" width="33" height="33.5" rx="4.5" fill="#c5e6f9" stroke="#119ad4" stroke-width="2"/><rect x="1026" y="275.4" width="13" height="13" fill="#1b5e80"/><path d="M681 281.6 H808" stroke="#333" stroke-width="2.6"/><path d="M818 281.6 L803.5 274.3 L807.2 281.6 L803.5 289.2Z" fill="#333"/><path d="M866 281.6 H998" stroke="#333" stroke-width="2.6"/><path d="M1008.2 281.6 L993.7 274.3 L997.4 281.6 L993.7 289.2Z" fill="#333"/><path d="M846 325.3 L845.6 341.6 L851.3 339.4 L908.3 436.5 L856.2 336.5 L860.8 333.8Z" fill="#fe1d1d"/></svg>
<span class="t" style="left:639px;top:308px;font-size:17.5px;color:#222;">开始</span>
<span class="t" style="left:791.5px;top:308px;font-size:17.5px;color:#222;">HL7业务服务</span>
<span class="t" style="left:1014px;top:308px;font-size:17.5px;color:#222;">结束</span>
<span class="t" style="left:825px;top:457.5px;font-size:26px;color:#ff1f1f;">依次连接三个图元</span>
<div style="left:1643px;top:90px;width:225px;height:125px;background:#fff;box-shadow:0 0 6px rgba(0,0,0,0.08)"></div>
<svg style="left:0;top:0" width="1920" height="864" viewBox="0 0 1920 864"><g transform="translate(1303.6,-5.2) scale(0.535)"><rect x="641" y="265" width="33" height="33.5" rx="4.5" fill="#c5e6f9" stroke="#119ad4" stroke-width="2"/><path d="M652.8 273 L666 282 L652.8 290.8Z" fill="#1b5e80"/><rect x="826" y="265" width="33" height="33.5" rx="4.5" fill="#fff" stroke="#3a9ee0" stroke-width="2"/><circle cx="842.4" cy="274.6" r="6.3" fill="none" stroke="#3a9ee0" stroke-width="2.1"/><ellipse cx="842.4" cy="274.6" rx="2.6" ry="6.3" fill="none" stroke="#3a9ee0" stroke-width="1.6"/><path d="M836.2 274.6 H848.6" stroke="#3a9ee0" stroke-width="1.6"/><text x="842.4" y="294.9" font-size="14.3" text-anchor="middle" fill="#3a9ee0" stroke="#3a9ee0" stroke-width="0.35" font-family="Liberation Sans">HL7</text><rect x="1016" y="265" width="33" height="33.5" rx="4.5" fill="#c5e6f9" stroke="#119ad4" stroke-width="2"/><rect x="1026" y="275.4" width="13" height="13" fill="#1b5e80"/><path d="M681 281.6 H808" stroke="#333" stroke-width="2.6"/><path d="M818 281.6 L803.5 274.3 L807.2 281.6 L803.5 289.2Z" fill="#333"/><path d="M866 281.6 H998" stroke="#333" stroke-width="2.6"/><path d="M1008.2 281.6 L993.7 274.3 L997.4 281.6 L993.7 289.2Z" fill="#333"/></g></svg>
<span class="t" style="left:1646px;top:159px;font-size:9.4px;color:#222;">开始</span>
<span class="t" style="left:1726px;top:159px;font-size:9.4px;color:#222;">HL7业务服务</span>
<span class="t" style="left:1845px;top:159px;font-size:9.4px;color:#222;">结束</span>
</body></html>
